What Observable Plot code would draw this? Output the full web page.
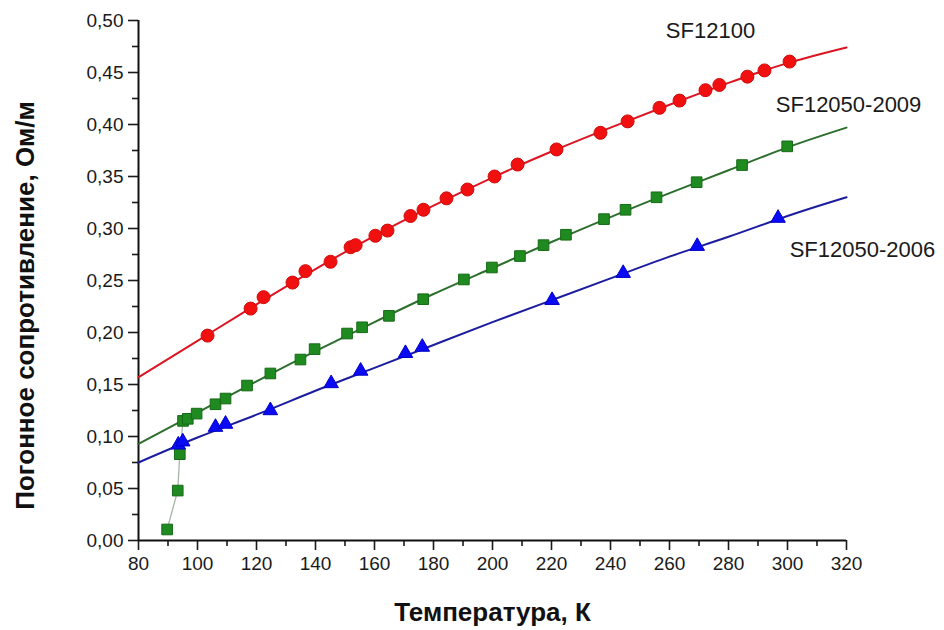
<!DOCTYPE html>
<html>
<head>
<meta charset="utf-8">
<script src="https://cdn.jsdelivr.net/npm/d3@7"></script>
<script src="https://cdn.jsdelivr.net/npm/@observablehq/plot@0.6"></script>
<style>
  html, body { margin: 0; padding: 0; background: #fff; }
  #chart svg { display: block; }
</style>
</head>
<body>
<div id="chart"></div>
<script>
// ---- Data ----
// SF12100 (red circles)
const sf12100T = [103.4, 118.0, 122.4, 132.2, 136.6, 145.1, 151.9, 153.6, 160.3, 164.4, 172.2, 176.6, 184.4, 191.5, 200.7, 208.5, 221.7, 236.6, 245.8, 256.6, 263.4, 272.2, 276.9, 286.4, 292.2, 300.7];
const sf12100R = [0.197, 0.223, 0.234, 0.248, 0.259, 0.268, 0.282, 0.284, 0.293, 0.298, 0.312, 0.318, 0.329, 0.3375, 0.350, 0.3615, 0.376, 0.392, 0.403, 0.416, 0.423, 0.433, 0.438, 0.446, 0.452, 0.4605];
// SF12050-2009 (green squares)
const sf2009T = [89.7, 93.3, 94.0, 95.1, 96.7, 99.7, 106.1, 109.5, 116.8, 124.7, 134.9, 139.7, 150.7, 155.8, 164.9, 176.5, 190.3, 199.8, 209.3, 217.3, 224.9, 237.8, 245.1, 255.6, 269.2, 284.6, 299.9];
const sf2009R = [0.0106, 0.048, 0.083, 0.115, 0.117, 0.122, 0.131, 0.1365, 0.149, 0.1606, 0.174, 0.184, 0.199, 0.205, 0.216, 0.232, 0.251, 0.2625, 0.2735, 0.284, 0.294, 0.309, 0.318, 0.330, 0.3445, 0.361, 0.379];
// low-temperature transition points of SF12050-2009 (thin connector)
const sf2009LowT = [89.7, 93.3, 94.0, 95.1];
const sf2009LowR = [0.0106, 0.048, 0.083, 0.115];
// SF12050-2006 (blue triangles)
const sf2006T = [93.5, 95.0, 106.1, 109.5, 124.7, 145.3, 155.3, 170.5, 176.2, 220.2, 244.3, 269.4, 296.8];
const sf2006R = [0.092, 0.095, 0.109, 0.112, 0.125, 0.151, 0.163, 0.180, 0.186, 0.231, 0.257, 0.283, 0.310];
// fitted curves (read at 20 K steps)
const fitT = [80, 100, 120, 140, 160, 180, 200, 220, 240, 260, 280, 300, 320];
const fitSF12100 = [0.157, 0.192, 0.227, 0.261, 0.293, 0.322, 0.349, 0.374, 0.397, 0.419, 0.440, 0.459, 0.474];
const fitSF2009 = [0.093, 0.123, 0.153, 0.182, 0.210, 0.237, 0.262, 0.287, 0.311, 0.334, 0.356, 0.378, 0.397];
const fitSF2006 = [0.075, 0.099, 0.121, 0.144, 0.166, 0.188, 0.210, 0.231, 0.252, 0.273, 0.292, 0.312, 0.330];
// axes
const xTicks = [80, 100, 120, 140, 160, 180, 200, 220, 240, 260, 280, 300, 320];
const xMinorTicks = [90, 110, 130, 150, 170, 190, 210, 230, 250, 270, 290, 310];
const yTicks = [0, 0.05, 0.10, 0.15, 0.20, 0.25, 0.30, 0.35, 0.40, 0.45, 0.50];
const yTickLabels = ["0,00", "0,05", "0,10", "0,15", "0,20", "0,25", "0,30", "0,35", "0,40", "0,45", "0,50"];
const yMinorTicks = [0.025, 0.075, 0.125, 0.175, 0.225, 0.275, 0.325, 0.375, 0.425, 0.475];
const seriesNames = ["SF12100", "SF12050-2009", "SF12050-2006"];
const xTitle = "Температура, К";
const yTitle = "Погонное сопротивление, Ом/м";

// ---- Build tables ----
const zip = (T, R) => T.map((t, i) => ({T: t, R: R[i]}));
const red = zip(sf12100T, sf12100R);
const green = zip(sf2009T, sf2009R);
const greenLow = zip(sf2009LowT, sf2009LowR);
const blue = zip(sf2006T, sf2006R);
const fitRed = zip(fitT, fitSF12100);
const fitGreen = zip(fitT, fitSF2009);
const fitBlue = zip(fitT, fitSF2006);

const labelPos = [
  {name: seriesNames[0], T: 273.9, R: 0.490},
  {name: seriesNames[1], T: 320.7, R: 0.419},
  {name: seriesNames[2], T: 325.4, R: 0.279}
];

const chart = Plot.plot({
  width: 944,
  height: 630,
  marginLeft: 138,
  marginRight: 98,
  marginTop: 20,
  marginBottom: 90,
  style: {fontFamily: "'Liberation Sans', Arial, sans-serif", fontSize: "19px", background: "#fff", color: "#1a1a1a"},
  x: {domain: [80, 320], nice: false},
  y: {domain: [0, 0.5], nice: false},
  marks: [
    // axes
    Plot.axisX(xTicks, {tickSize: 10, tickPadding: 6, strokeWidth: 1.6, fontSize: 19, tickFormat: d => String(d), label: null}),
    Plot.axisX(xMinorTicks, {tickSize: 6, strokeWidth: 1.6, tickFormat: () => "", label: null}),
    Plot.axisY(yTicks, {tickSize: 10, tickPadding: 5, strokeWidth: 1.6, fontSize: 19, tickFormat: d => yTickLabels[yTicks.indexOf(d)], label: null}),
    Plot.axisY(yMinorTicks, {tickSize: 6, strokeWidth: 1.6, tickFormat: () => "", label: null}),
    Plot.ruleX([80], {stroke: "#111", strokeWidth: 2}),
    Plot.ruleY([0], {stroke: "#111", strokeWidth: 2}),
    // fitted lines
    Plot.line(fitRed, {x: "T", y: "R", stroke: "#dd1522", strokeWidth: 2, curve: "natural"}),
    Plot.line(fitGreen, {x: "T", y: "R", stroke: "#2c6e2c", strokeWidth: 2, curve: "natural"}),
    Plot.line(fitBlue, {x: "T", y: "R", stroke: "#1c1ca0", strokeWidth: 2, curve: "natural"}),
    Plot.line(greenLow, {x: "T", y: "R", stroke: "#a8b4a8", strokeWidth: 1.3}),
    // markers
    Plot.dot(red, {x: "T", y: "R", symbol: "circle", r: 6.5, fill: "#f01010", stroke: "#d00d0d", strokeWidth: 1}),
    Plot.dot(green, {x: "T", y: "R", symbol: "square", r: 6, fill: "#1f8a1f", stroke: "#166a16", strokeWidth: 1}),
    Plot.dot(blue, {x: "T", y: "R", symbol: "triangle", r: 5.4, fill: "#0a0af5", stroke: "#0000c8", strokeWidth: 1}),
    // series labels
    Plot.text(labelPos, {x: "T", y: "R", text: "name", fontSize: 22, fill: "#1a1a1a", textAnchor: "middle"}),
    // axis titles
    Plot.text([xTitle], {frameAnchor: "bottom", textAnchor: "middle", dy: 80, fontSize: 26, fontWeight: "bold", fill: "#111"}),
    Plot.text([yTitle], {frameAnchor: "left", textAnchor: "middle", rotate: -90, dx: -113, dy: 25, fontSize: 26, fontWeight: "bold", fill: "#111"})
  ]
});
document.getElementById("chart").appendChild(chart);
</script>
</body>
</html>
